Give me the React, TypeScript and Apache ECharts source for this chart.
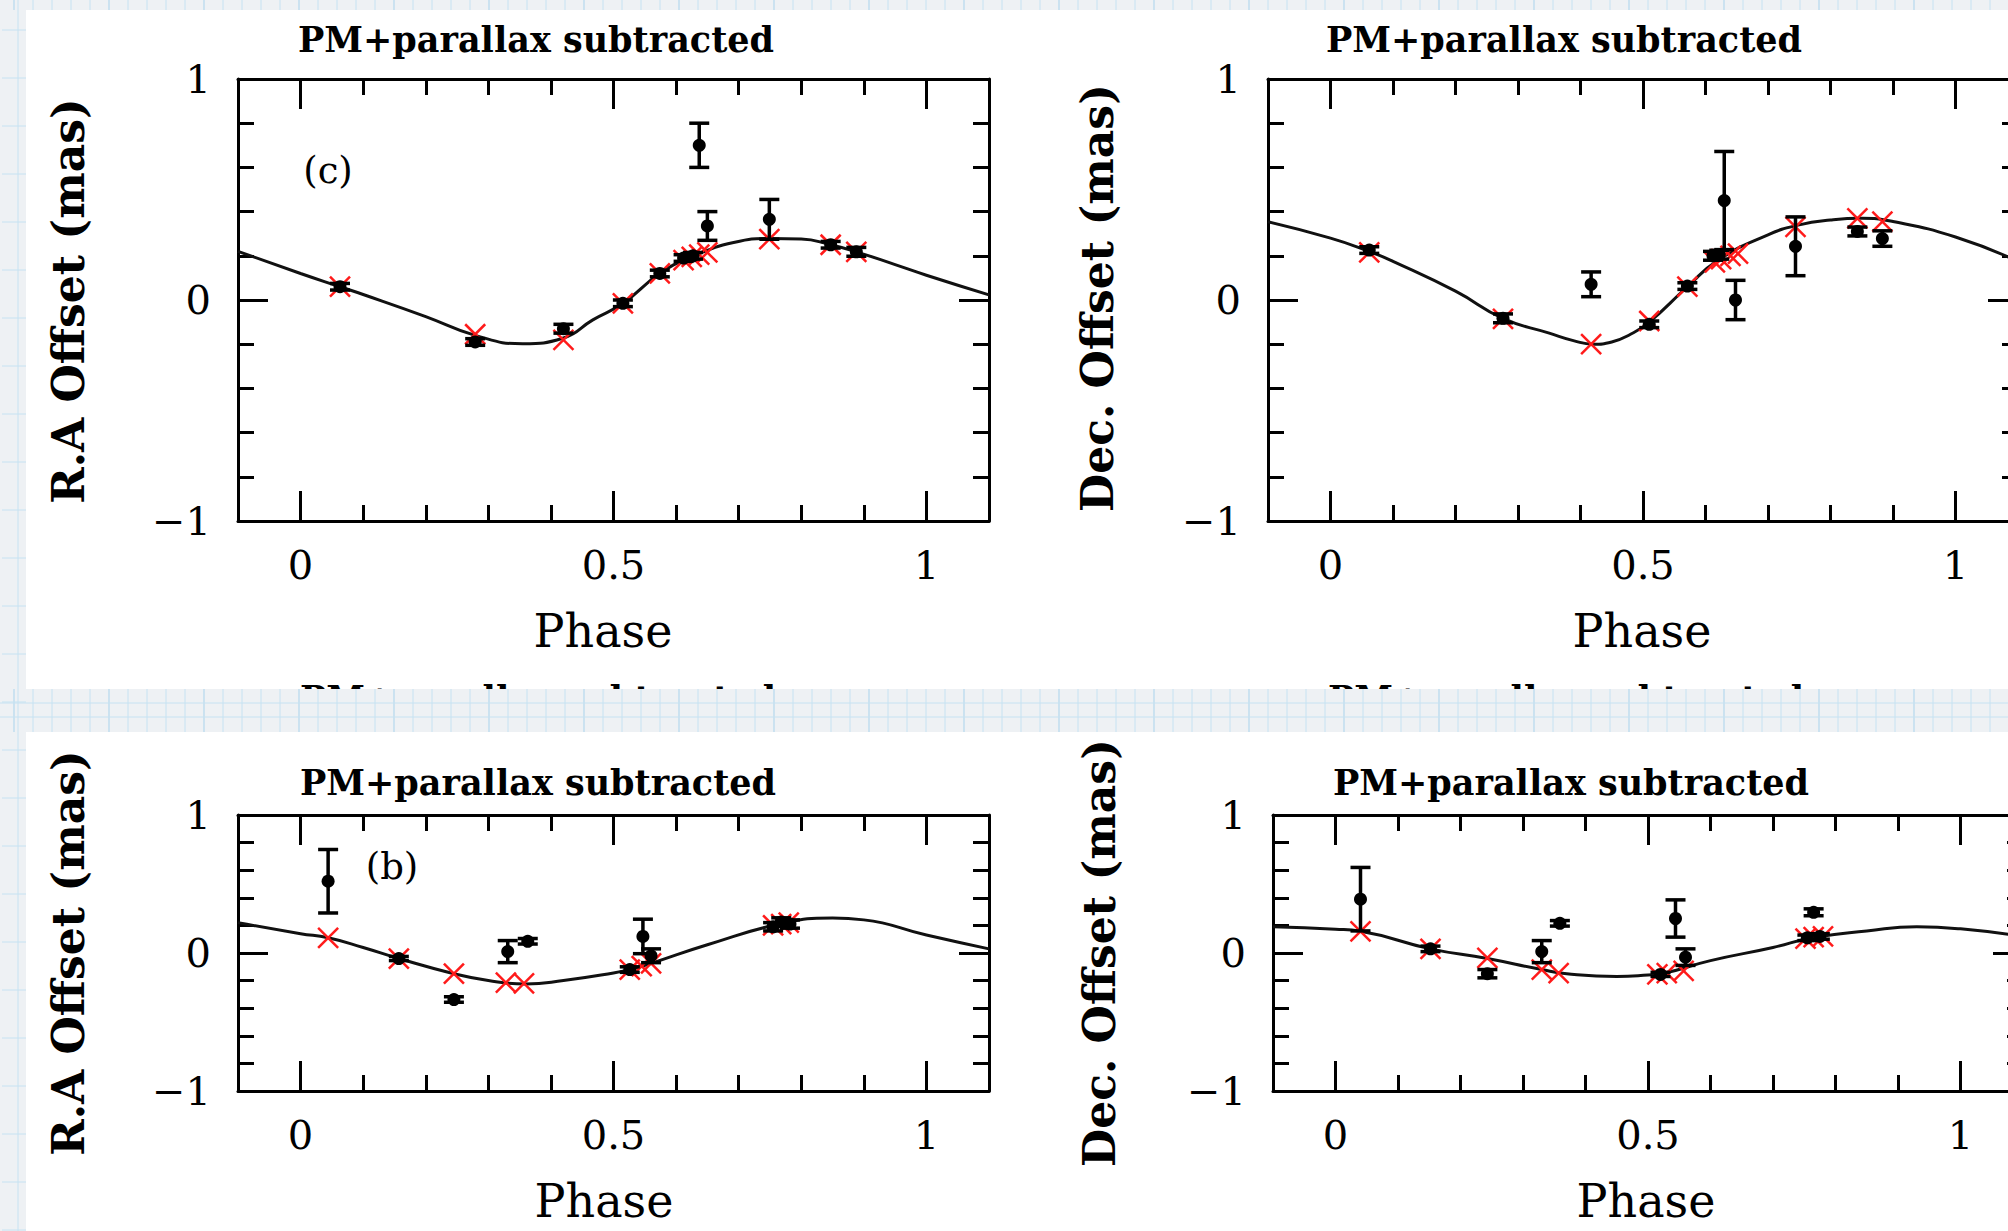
import React, { useEffect, useRef } from "react";
import * as echarts from "echarts";

// ---------- axis ticks and texts ----------
const phaseMinorTicks = [-0.1, 0, 0.1, 0.2, 0.3, 0.4, 0.5, 0.6, 0.7, 0.8, 0.9, 1, 1.1];
const phaseMajorTicks = [0, 0.5, 1];
const phaseTickLabels = [0, 0.5, 1];

const panelTitle = "PM+parallax subtracted";
const phaseTitle = "Phase";
const raTitle = "R.A Offset (mas)";
const decTitle = "Dec. Offset (mas)";
const tagC = "(c)";
const tagB = "(b)";

// ---------- panel (c), R.A. ----------
const raC_fit = [[-0.1, 0.22], [0, 0.12], [0.063, 0.06], [0.1, 0.025], [0.2, -0.075], [0.279, -0.16], [0.355, -0.198], [0.42, -0.172], [0.467, -0.09], [0.515, -0.015], [0.574, 0.12], [0.625, 0.195], [0.692, 0.26], [0.75, 0.278], [0.8, 0.276], [0.847, 0.25], [0.888, 0.218], [0.95, 0.16], [1.0, 0.112], [1.1, 0.023]];
const raC_model = [[0.063, 0.06], [0.279, -0.155], [0.42, -0.18], [0.515, -0.015], [0.574, 0.12], [0.612, 0.18], [0.625, 0.195], [0.637, 0.205], [0.65, 0.215], [0.749, 0.275], [0.847, 0.25], [0.888, 0.218]];
const raC_obs = [[0.063, 0.06, 0.015], [0.279, -0.19, 0.015], [0.42, -0.13, 0.02], [0.515, -0.015, 0.015], [0.574, 0.12, 0.015], [0.612, 0.19, 0.015], [0.627, 0.2, 0.015], [0.637, 0.7, 0.1], [0.65, 0.335, 0.065], [0.749, 0.365, 0.09], [0.847, 0.25, 0.015], [0.888, 0.218, 0.02]];

// ---------- panel (c), Dec. ----------
const decC_fit = [[-0.1, 0.354], [0, 0.28], [0.062, 0.22], [0.1, 0.175], [0.2, 0.04], [0.276, -0.083], [0.35, -0.15], [0.39, -0.185], [0.42, -0.2], [0.45, -0.19], [0.48, -0.155], [0.51, -0.1], [0.571, 0.06], [0.62, 0.18], [0.7, 0.295], [0.75, 0.34], [0.8, 0.362], [0.85, 0.37], [0.9, 0.355], [1.0, 0.285], [1.1, 0.175]];
const decC_model = [[0.062, 0.215], [0.276, -0.085], [0.417, -0.2], [0.51, -0.095], [0.571, 0.06], [0.615, 0.17], [0.625, 0.185], [0.64, 0.2], [0.652, 0.21], [0.744, 0.331], [0.843, 0.369], [0.883, 0.355]];
const decC_obs = [[0.062, 0.226, 0.015], [0.276, -0.083, 0.02], [0.417, 0.071, 0.056], [0.51, -0.11, 0.015], [0.571, 0.063, 0.015], [0.612, 0.2, 0.02], [0.622, 0.205, 0.02], [0.63, 0.45, 0.222], [0.648, 0.0, 0.089], [0.744, 0.243, 0.133], [0.843, 0.31, 0.02], [0.883, 0.278, 0.035]];

// ---------- panel (b), R.A. ----------
const raB_fit = [[-0.1, 0.22], [0, 0.14], [0.044, 0.11], [0.1, 0.04], [0.157, -0.04], [0.245, -0.15], [0.3, -0.2], [0.36, -0.225], [0.42, -0.2], [0.5, -0.145], [0.526, -0.12], [0.56, -0.075], [0.65, 0.06], [0.77, 0.215], [0.85, 0.253], [0.9, 0.24], [1.0, 0.13], [1.1, 0.03]];
const raB_model = [[0.044, 0.11], [0.157, -0.04], [0.245, -0.15], [0.328, -0.215], [0.357, -0.22], [0.526, -0.12], [0.545, -0.095], [0.56, -0.075], [0.755, 0.2], [0.768, 0.21], [0.78, 0.22]];
const raB_obs = [[0.044, 0.52, 0.23], [0.157, -0.04, 0.015], [0.245, -0.337, 0.02], [0.331, 0.01, 0.08], [0.363, 0.085, 0.02], [0.526, -0.12, 0.02], [0.547, 0.12, 0.125], [0.56, -0.02, 0.05], [0.755, 0.19, 0.03], [0.768, 0.225, 0.03], [0.782, 0.21, 0.03]];

// ---------- panel (b), Dec. ----------
const decB_fit = [[-0.1, 0.19], [0, 0.172], [0.04, 0.157], [0.152, 0.03], [0.243, -0.04], [0.33, -0.12], [0.37, -0.15], [0.45, -0.17], [0.5, -0.16], [0.522, -0.15], [0.6, -0.055], [0.7, 0.04], [0.762, 0.11], [0.85, 0.16], [0.93, 0.19], [1.0, 0.175], [1.1, 0.12]];
const decB_model = [[0.04, 0.157], [0.152, 0.03], [0.243, -0.035], [0.33, -0.12], [0.357, -0.145], [0.515, -0.155], [0.53, -0.145], [0.557, -0.13], [0.752, 0.105], [0.765, 0.115], [0.78, 0.12]];
const decB_obs = [[0.04, 0.39, 0.23], [0.152, 0.03, 0.02], [0.243, -0.15, 0.03], [0.33, 0.01, 0.08], [0.359, 0.215, 0.02], [0.52, -0.155, 0.015], [0.544, 0.25, 0.135], [0.56, -0.03, 0.06], [0.755, 0.11, 0.02], [0.765, 0.295, 0.025], [0.775, 0.12, 0.02]];

// ---------- styling ----------
const FONT = "DejaVu Serif";
const LW = 3;
const axisLineStyle = { color: "#000", width: LW };

const panels = [
  { grid: { left: 238, top: 79, width: 751, height: 442 }, fit: raC_fit, model: raC_model, obs: raC_obs },
  { grid: { left: 1268, top: 79, width: 750, height: 442 }, fit: decC_fit, model: decC_model, obs: decC_obs },
  { grid: { left: 238, top: 815, width: 751, height: 276 }, fit: raB_fit, model: raB_model, obs: raB_obs },
  { grid: { left: 1273, top: 815, width: 750, height: 276 }, fit: decB_fit, model: decB_model, obs: decB_obs },
];

const fmtPhase = (v: number) => String(Math.round(v * 10) / 10);
const fmtOffset = (v: number) => (v < 0 ? "\u2212" + Math.abs(v) : String(v));

function xAxesFor(gi: number) {
  const base = {
    gridIndex: gi, type: "value", min: -0.1, max: 1.1,
    splitLine: { show: false }, minorSplitLine: { show: false },
  };
  return [
    {
      ...base, position: "bottom",
      axisLine: { show: true, onZero: false, lineStyle: axisLineStyle },
      axisTick: { show: true, inside: true, length: 16, customValues: phaseMinorTicks, lineStyle: axisLineStyle },
      axisLabel: { show: true, customValues: phaseTickLabels, formatter: fmtPhase, margin: 24, fontSize: 40, fontFamily: FONT, color: "#000" },
    },
    {
      ...base, position: "bottom",
      axisLine: { show: false, onZero: false },
      axisTick: { show: true, inside: true, length: 30, customValues: phaseMajorTicks, lineStyle: axisLineStyle },
      axisLabel: { show: false },
    },
    {
      ...base, position: "top",
      axisLine: { show: true, onZero: false, lineStyle: axisLineStyle },
      axisTick: { show: true, inside: true, length: 16, customValues: phaseMinorTicks, lineStyle: axisLineStyle },
      axisLabel: { show: false },
    },
    {
      ...base, position: "top",
      axisLine: { show: false, onZero: false },
      axisTick: { show: true, inside: true, length: 30, customValues: phaseMajorTicks, lineStyle: axisLineStyle },
      axisLabel: { show: false },
    },
  ];
}

function yAxesFor(gi: number) {
  const base = {
    gridIndex: gi, type: "value", min: -1, max: 1, interval: 1,
    splitLine: { show: false }, minorSplitLine: { show: false },
    axisLine: { show: true, onZero: false, lineStyle: axisLineStyle },
    axisTick: { show: true, inside: true, length: 30, lineStyle: axisLineStyle },
    minorTick: { show: true, splitNumber: 5, length: 16, lineStyle: axisLineStyle },
  };
  return [
    { ...base, position: "left", axisLabel: { show: true, formatter: fmtOffset, margin: 27, fontSize: 40, fontFamily: FONT, color: "#000" } },
    { ...base, position: "right", axisLabel: { show: false } },
  ];
}

function renderCross(params: any, api: any) {
  const p = api.coord([api.value(0), api.value(1)]);
  const s = 10;
  const style = { stroke: "#ff1a1a", lineWidth: 2.5 };
  return {
    type: "group",
    children: [
      { type: "line", shape: { x1: p[0] - s, y1: p[1] - s, x2: p[0] + s, y2: p[1] + s }, style },
      { type: "line", shape: { x1: p[0] - s, y1: p[1] + s, x2: p[0] + s, y2: p[1] - s }, style },
    ],
  };
}

function renderErr(params: any, api: any) {
  const x = api.value(0), y = api.value(1), e = api.value(2);
  const c = api.coord([x, y]);
  const t = api.coord([x, y + e]);
  const b = api.coord([x, y - e]);
  const cap = 10;
  const style = { stroke: "#000", lineWidth: 3.5 };
  return {
    type: "group",
    children: [
      { type: "line", shape: { x1: t[0], y1: t[1], x2: b[0], y2: b[1] }, style },
      { type: "line", shape: { x1: t[0] - cap, y1: t[1], x2: t[0] + cap, y2: t[1] }, style },
      { type: "line", shape: { x1: b[0] - cap, y1: b[1], x2: b[0] + cap, y2: b[1] }, style },
      { type: "circle", shape: { cx: c[0], cy: c[1], r: 6.5 }, style: { fill: "#000" } },
    ],
  };
}

function txt(text: string, x: number, y: number, size: number, weight: string, rotation = 0) {
  return {
    type: "text", x, y, rotation, silent: true, z: 10,
    style: { text, fontSize: size, fontFamily: FONT, fontWeight: weight, fill: "#000", align: "center", verticalAlign: "middle" },
  };
}

function paperElements() {
  const bg = "#eef1f4";
  const ln = "#c6e2f2";
  const lnDark = "#a9d3ec";
  const els: any[] = [];
  // titles of the next row of panels, mostly hidden behind the paper band
  els.push(txt(panelTitle, 538, 698, 35, "bold"));
  els.push(txt(panelTitle, 1566, 698, 35, "bold"));
  els.push({ type: "rect", z: 11, silent: true, shape: { x: 0, y: 689, width: 2008, height: 43 }, style: { fill: bg } });
  els.push({ type: "rect", z: 11, silent: true, shape: { x: 0, y: 0, width: 2008, height: 10 }, style: { fill: bg } });
  els.push({ type: "rect", z: 11, silent: true, shape: { x: 0, y: 0, width: 26, height: 1231 }, style: { fill: bg } });
  let k = 0;
  for (let x = 14; x < 2008; x += 19, k++) {
    const stroke = k % 5 === 0 ? lnDark : ln;
    els.push({ type: "line", z: 12, silent: true, shape: { x1: x, y1: 689, x2: x, y2: 732 }, style: { stroke, lineWidth: 1 } });
    els.push({ type: "line", z: 12, silent: true, shape: { x1: x, y1: 0, x2: x, y2: 10 }, style: { stroke, lineWidth: 1 } });
  }
  for (const y of [703, 717]) {
    els.push({ type: "line", z: 12, silent: true, shape: { x1: 0, y1: y, x2: 2008, y2: y }, style: { stroke: ln, lineWidth: 1 } });
  }
  els.push({ type: "line", z: 12, silent: true, shape: { x1: 18, y1: 0, x2: 18, y2: 1231 }, style: { stroke: ln, lineWidth: 1 } });
  for (let y = 30; y < 1231; y += 48) {
    els.push({ type: "line", z: 12, silent: true, shape: { x1: 2, y1: y, x2: 26, y2: y }, style: { stroke: ln, lineWidth: 1 } });
  }
  return els;
}

function buildOption() {
  const grid: any[] = [];
  const xAxis: any[] = [];
  const yAxis: any[] = [];
  const series: any[] = [];
  panels.forEach((p, gi) => {
    grid.push({ ...p.grid, containLabel: false, outerBoundsMode: "none" });
    xAxis.push(...xAxesFor(gi));
    yAxis.push(...yAxesFor(gi));
    const xi = gi * 4;
    const yi = gi * 2;
    series.push({
      type: "line", xAxisIndex: xi, yAxisIndex: yi, data: p.fit, smooth: 0.5, symbol: "none",
      lineStyle: { color: "#111", width: 3 }, z: 2, silent: true,
    });
    series.push({
      type: "custom", xAxisIndex: xi, yAxisIndex: yi, data: p.model, renderItem: renderCross,
      encode: { x: 0, y: 1 }, z: 3, silent: true,
    });
    series.push({
      type: "custom", xAxisIndex: xi, yAxisIndex: yi, data: p.obs, renderItem: renderErr,
      encode: { x: 0, y: 1 }, z: 4, silent: true,
    });
  });

  const graphic = [
    ...paperElements(),
    txt(panelTitle, 536, 39, 35, "bold"),
    txt(panelTitle, 1564, 39, 35, "bold"),
    txt(panelTitle, 538, 782, 35, "bold"),
    txt(panelTitle, 1571, 782, 35, "bold"),
    txt(phaseTitle, 603, 631, 46, "normal"),
    txt(phaseTitle, 1642, 631, 46, "normal"),
    txt(phaseTitle, 604, 1201, 46, "normal"),
    txt(phaseTitle, 1646, 1201, 46, "normal"),
    txt(raTitle, 68, 301, 44, "bold", Math.PI / 2),
    txt(decTitle, 1097, 298, 44, "bold", Math.PI / 2),
    txt(raTitle, 68, 953, 44, "bold", Math.PI / 2),
    txt(decTitle, 1099, 953, 44, "bold", Math.PI / 2),
    txt(tagC, 328, 170, 37, "normal"),
    txt(tagB, 392, 866, 37, "normal"),
  ];

  return {
    animation: false,
    backgroundColor: "#ffffff",
    grid, xAxis, yAxis, series, graphic,
  };
}

export default function App() {
  const ref = useRef<HTMLDivElement>(null);
  useEffect(() => {
    if (!ref.current) return;
    const chart = echarts.init(ref.current, null, { renderer: "svg" });
    chart.setOption(buildOption() as any);
    return () => chart.dispose();
  }, []);
  return (
    <div
      ref={ref}
      style={{ position: "fixed", left: 0, top: 0, width: "2008px", height: "1231px", background: "#fff", overflow: "hidden" }}
    />
  );
}
